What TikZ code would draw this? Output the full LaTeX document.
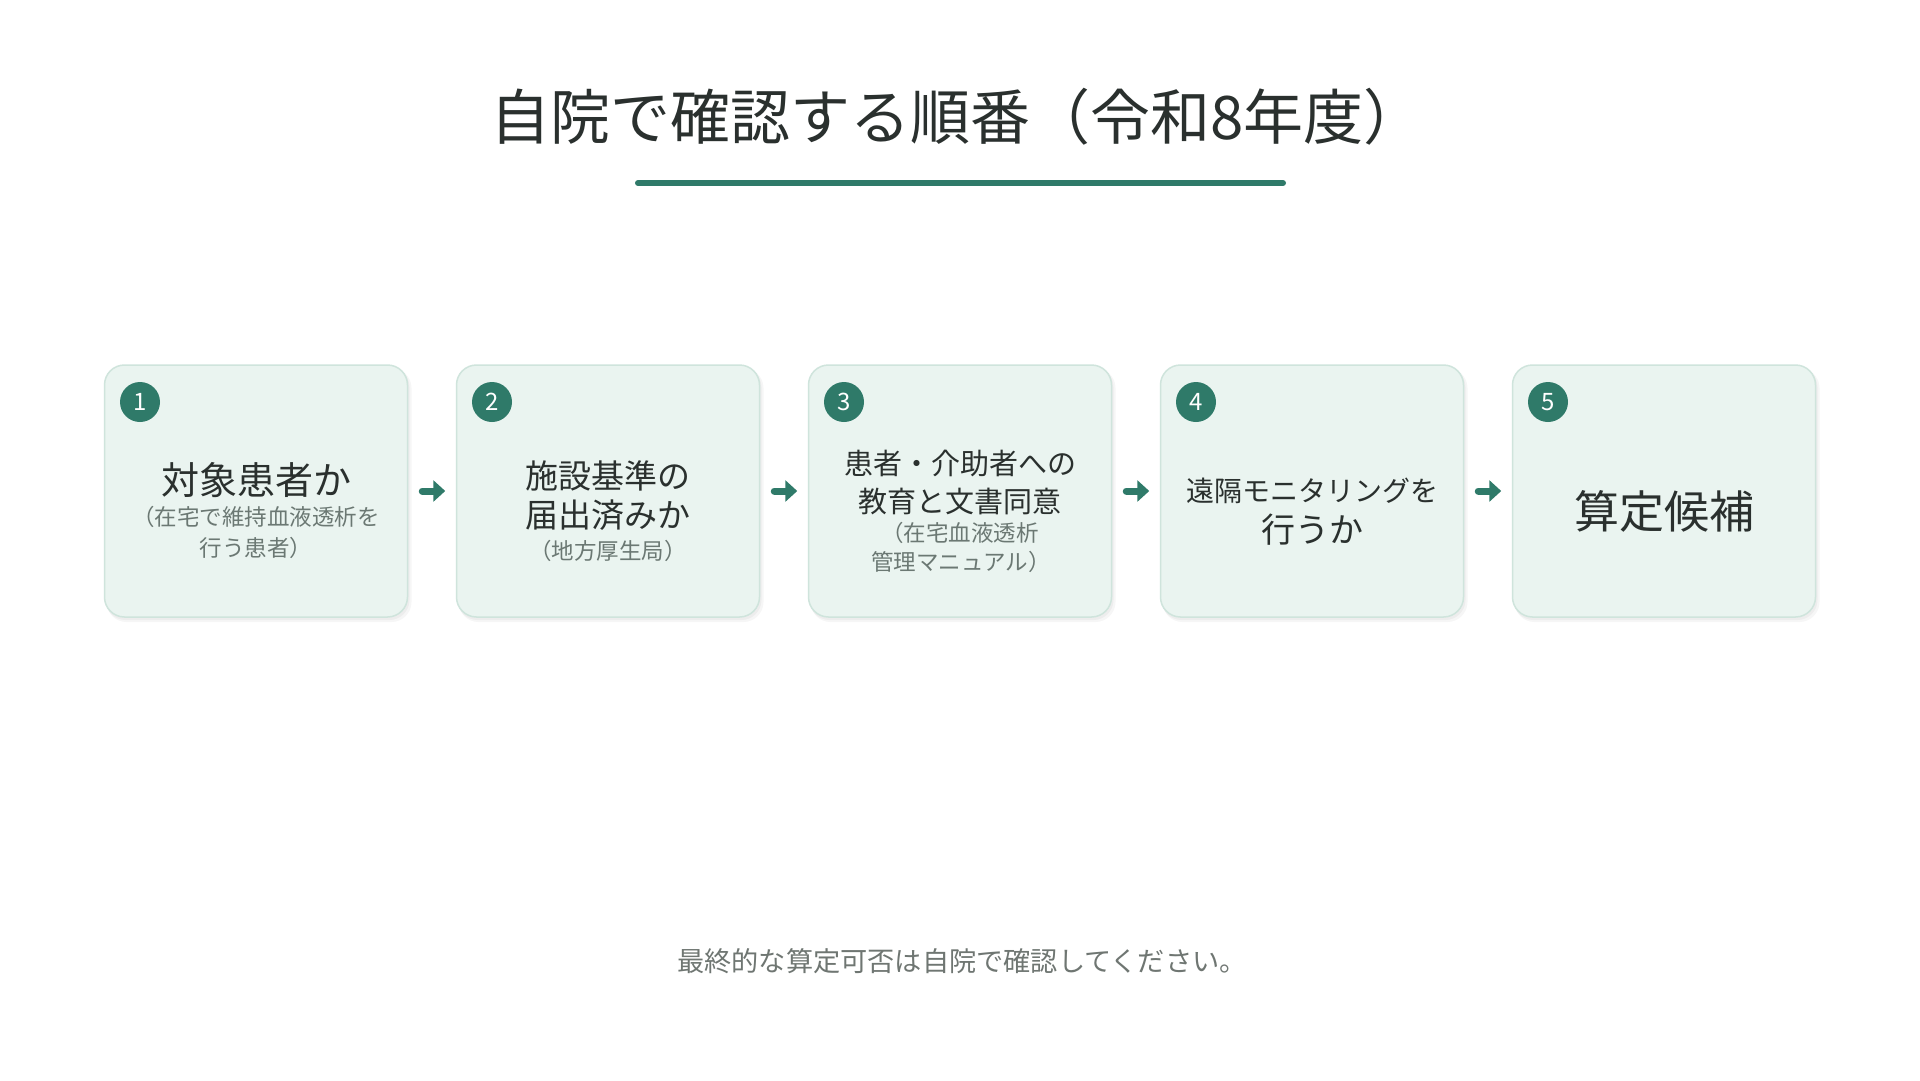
\documentclass[tikz,border=0pt]{standalone}
\usepackage{fontspec}
\setmainfont{Noto Sans CJK JP}
\usetikzlibrary{arrows.meta}
\definecolor{teal}{HTML}{2F7A69}
\definecolor{boxfill}{HTML}{EAF4F0}
\definecolor{boxline}{HTML}{CFE4DC}
\definecolor{maintext}{HTML}{2A302E}
\definecolor{subtext}{HTML}{6B7873}
\definecolor{foottext}{HTML}{6F7672}
\newcommand{\fs}[1]{\fontsize{#1}{#1}\selectfont}
\tikzset{
  stepbox/.style={draw=boxline, line width=1.5pt, fill=boxfill, rounded corners=20pt,
    minimum width=303pt, minimum height=252pt, inner sep=0pt},
  boxshadow/.style={fill=black, fill opacity=0.035, rounded corners=20pt, draw=none},
  badge/.style={circle, fill=teal, minimum size=40pt, inner sep=0pt, text=white, font=\fs{24}},
  maintxt/.style={text=maintext, inner sep=0pt, anchor=center},
  subtxt/.style={text=subtext, inner sep=0pt, anchor=center, font=\fs{22.5}},
  flowarrow/.style={draw=teal, line width=7pt, line cap=round,
    -{Triangle[length=12pt,width=21pt]}, shorten <=14pt, shorten >=10.5pt},
}
\begin{document}
\begin{tikzpicture}[x=1pt,y=-1pt]
\useasboundingbox (0,0) rectangle (1920,1080);
\fill[white] (0,0) rectangle (1920,1080);

% title
\node[text=maintext, inner sep=0pt, font=\fs{60}] (title) at (957,117) {自院で確認する順番（令和8年度）};
\coordinate (ulL) at (638,183);
\coordinate (ulR) at (1283,183);
\draw[teal, line width=6pt, line cap=round] (ulL) -- (ulR);

% shadows
\foreach \c in {256,608,960,1312,1664}{
  \fill[boxshadow] (\c-151.5+2,365+3) rectangle (\c+151.5+4,617+5);
  \fill[boxshadow] (\c-151.5+1,365+2) rectangle (\c+151.5+2,617+3);
}

% boxes
\node[stepbox] (b1) at (256,491) {};
\node[stepbox] (b2) at (608,491) {};
\node[stepbox] (b3) at (960,491) {};
\node[stepbox] (b4) at (1312,491) {};
\node[stepbox] (b5) at (1664,491) {};

% badges
\node[badge] (n1) at (140,402) {1};
\node[badge] (n2) at (492,402) {2};
\node[badge] (n3) at (844,402) {3};
\node[badge] (n4) at (1196,402) {4};
\node[badge] (n5) at (1548,402) {5};

% box 1 text
\node[maintxt, font=\fs{38}] (t1a) at (256,480) {対象患者か};
\node[subtxt] (t1b) at (256,517) {（在宅で維持血液透析を};
\node[subtxt] (t1c) at (256,548) {行う患者）};

% box 2 text
\node[maintxt, font=\fs{33}] (t2a) at (608,476) {施設基準の};
\node[maintxt, font=\fs{33}] (t2b) at (608,515) {届出済みか};
\node[subtxt] (t2c) at (608,551) {（地方厚生局）};

% box 3 text
\node[maintxt, font=\fs{29}] (t3a) at (960,463) {患者・介助者への};
\node[maintxt, font=\fs{29}] (t3b) at (960,501) {教育と文書同意};
\node[subtxt] (t3c) at (960,533) {（在宅血液透析};
\node[subtxt] (t3d) at (961,562) {管理マニュアル）};

% box 4 text
\node[maintxt, font=\fs{28}] (t4a) at (1312,491) {遠隔モニタリングを};
\node[maintxt, font=\fs{34}] (t4b) at (1312,530) {行うか};

% box 5 text
\node[maintxt, font=\fs{45}] (t5a) at (1664,511) {算定候補};

% arrows
\draw[flowarrow] (b1.east) -- (b2.west);
\draw[flowarrow] (b2.east) -- (b3.west);
\draw[flowarrow] (b3.east) -- (b4.west);
\draw[flowarrow] (b4.east) -- (b5.west);

% footer
\node[text=foottext, inner sep=0pt, font=\fs{27.2}] (foot) at (962,961) {最終的な算定可否は自院で確認してください。};
\end{tikzpicture}
\end{document}
